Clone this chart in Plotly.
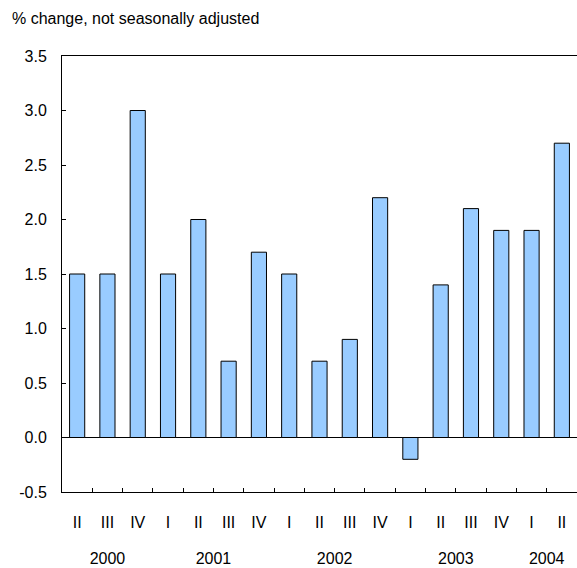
import plotly.graph_objects as go

quarters = ["II", "III", "IV", "I", "II", "III", "IV", "I", "II", "III", "IV",
            "I", "II", "III", "IV", "I", "II"]
quarter_years = [2000, 2000, 2000, 2001, 2001, 2001, 2001, 2002, 2002, 2002, 2002,
                 2003, 2003, 2003, 2003, 2004, 2004]
values = [1.5, 1.5, 3.0, 1.5, 2.0, 0.7, 1.7, 1.5, 0.7, 0.9, 2.2,
          -0.2, 1.4, 2.1, 1.9, 1.9, 2.7]
y_ticks = [-0.5, 0.0, 0.5, 1.0, 1.5, 2.0, 2.5, 3.0, 3.5]
title_text = "% change, not seasonally adjusted"

idx = list(range(len(values)))
years = sorted(set(quarter_years))
year_pos = [sum(i for i, y in zip(idx, quarter_years) if y == yr) /
            sum(1 for y in quarter_years if y == yr) for yr in years]
boundaries = [i + 0.5 for i in idx[:-1]]

FONT = "Liberation Sans, Arial, sans-serif"
FS = 16
W, H = 577, 568
ML, MT, MB = 62, 56, 10
PLOT_BOTTOM_PX = 492
plot_h = H - MT - MB
plot_w = W - ML


def paper_y(px):
    return (H - MB - px) / plot_h


xr = [-0.5, len(values) - 0.5]

fig = go.Figure()
fig.add_trace(go.Bar(
    x=idx, y=values, width=0.5,
    marker=dict(color="#99CCFF", line=dict(color="#000000", width=1)),
    showlegend=False, hoverinfo="skip",
))
fig.add_trace(go.Scatter(x=[], y=[], xaxis="x2", showlegend=False))
fig.add_trace(go.Scatter(x=[], y=[], xaxis="x3", showlegend=False))

fig.update_layout(
    width=W, height=H,
    margin=dict(l=ML, r=0, t=MT, b=MB, pad=0, autoexpand=False),
    paper_bgcolor="white", plot_bgcolor="white",
    font=dict(family=FONT, size=FS, color="#000000"),
    xaxis=dict(
        range=xr, tickmode="array", tickvals=boundaries, showticklabels=False,
        ticks="inside", ticklen=4, tickcolor="#000000", tickwidth=1,
        showline=True, linecolor="#000000", linewidth=1, mirror=True,
        showgrid=False, zeroline=False, anchor="y",
    ),
    xaxis2=dict(
        overlaying="x", anchor="free", position=paper_y(511), side="bottom",
        range=xr, tickmode="array", tickvals=idx, ticktext=quarters,
        ticks="", showline=False, showgrid=False, zeroline=False,
        tickfont=dict(size=FS),
    ),
    xaxis3=dict(
        overlaying="x", anchor="free", position=paper_y(547), side="bottom",
        range=xr, tickmode="array", tickvals=year_pos,
        ticktext=[str(y) for y in years],
        ticks="", showline=False, showgrid=False, zeroline=False,
        tickfont=dict(size=FS),
    ),
    yaxis=dict(
        domain=[paper_y(PLOT_BOTTOM_PX), 1],
        range=[-0.5, 3.5], tickmode="array", tickvals=y_ticks,
        ticktext=[f"{v:.1f}" for v in y_ticks],
        ticks="inside", ticklen=4, tickcolor="#000000",
        showline=True, linecolor="#000000", linewidth=1,
        showgrid=False, zeroline=True, zerolinecolor="#000000", zerolinewidth=1,
        ticklabelstandoff=11,
    ),
    annotations=[dict(
        text=title_text, x=(10 - ML) / plot_w, y=paper_y(18),
        xref="paper", yref="paper",
        showarrow=False, xanchor="left", yanchor="middle",
        font=dict(family=FONT, size=FS, color="#000000"),
    )],
)

fig.write_html(
    "out.html",
    config={"displayModeBar": False},
    post_script="document.body.style.margin='0';document.body.style.overflow='hidden';",
)
